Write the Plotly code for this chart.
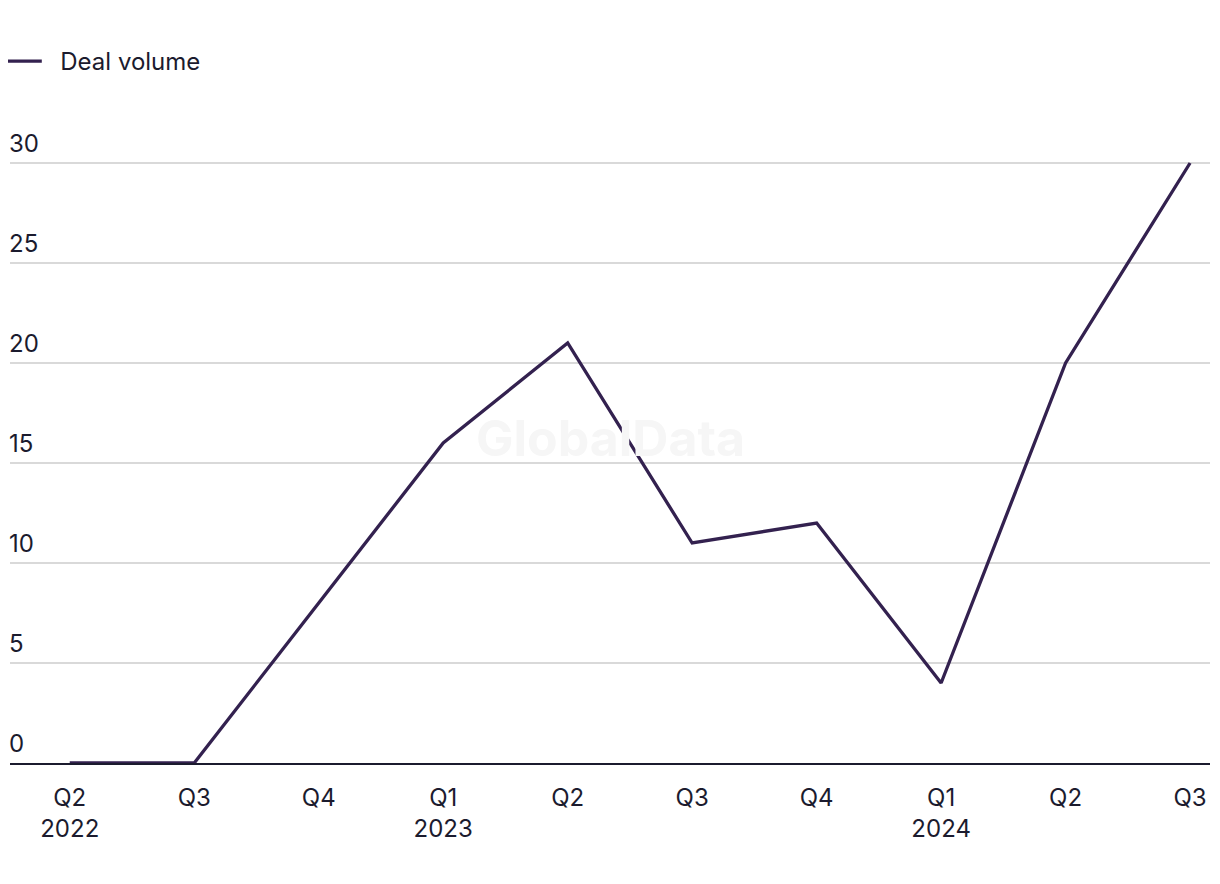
import plotly.graph_objects as go

quarters = ["Q2 2022", "Q3 2022", "Q4 2022", "Q1 2023", "Q2 2023", "Q3 2023",
            "Q4 2023", "Q1 2024", "Q2 2024", "Q3 2024"]
tick_text = ["Q2<br>2022", "Q3", "Q4", "Q1<br>2023", "Q2", "Q3", "Q4",
             "Q1<br>2024", "Q2", "Q3"]
deal_volume = [0, 0, 8, 16, 21, 11, 12, 4, 20, 30]
y_ticks = [0, 5, 10, 15, 20, 25, 30]

FONT = "Inter, Liberation Sans, Arial, sans-serif"
TEXT = "#1b1b2e"
LINE = "#33214f"

fig = go.Figure()
fig.add_trace(go.Scatter(
    x=quarters, y=deal_volume, mode="lines", name="\u00a0\u00a0Deal volume",
    line=dict(color=LINE, width=3.3), cliponaxis=False,
))

for v in y_ticks:
    fig.add_annotation(x=0, xref="paper", y=v, yref="y", text=str(v),
                       showarrow=False, xanchor="left", yanchor="bottom",
                       xshift=-3, yshift=3, font=dict(family=FONT, size=24, color=TEXT))

fig.add_annotation(x=0.5, y=0.5, xref="paper", yref="paper", text="<b>GlobalData</b>",
                   showarrow=False, yshift=20,
                   font=dict(family=FONT, size=50, color="#f6f6f6"))

# page body has an 8px margin; compensate in figure size / margins
fig.update_layout(
    width=1212, height=876,
    margin=dict(l=2, r=10, t=145, b=121, autoexpand=False),
    paper_bgcolor="white", plot_bgcolor="white",
    font=dict(family=FONT, size=24, color=TEXT),
    showlegend=True,
    legend=dict(x=-0.006, y=1.150, xanchor="left", yanchor="middle",
                orientation="h", itemwidth=34, font=dict(size=24, color=TEXT),
                bgcolor="rgba(0,0,0,0)"),
    xaxis=dict(type="category", range=[-0.48, 9.16], tickvals=quarters,
               ticktext=tick_text, showgrid=False, showline=True,
               linecolor=TEXT, linewidth=2, ticks="outside", ticklen=12,
               tickcolor="rgba(0,0,0,0)", zeroline=False, automargin=False),
    yaxis=dict(range=[0, 30.5], tickvals=y_ticks, showticklabels=False,
               showgrid=True, gridcolor="#d9d9d9", gridwidth=1.5,
               zeroline=False, showline=False, automargin=False),
)

fig.write_html("out.html")
